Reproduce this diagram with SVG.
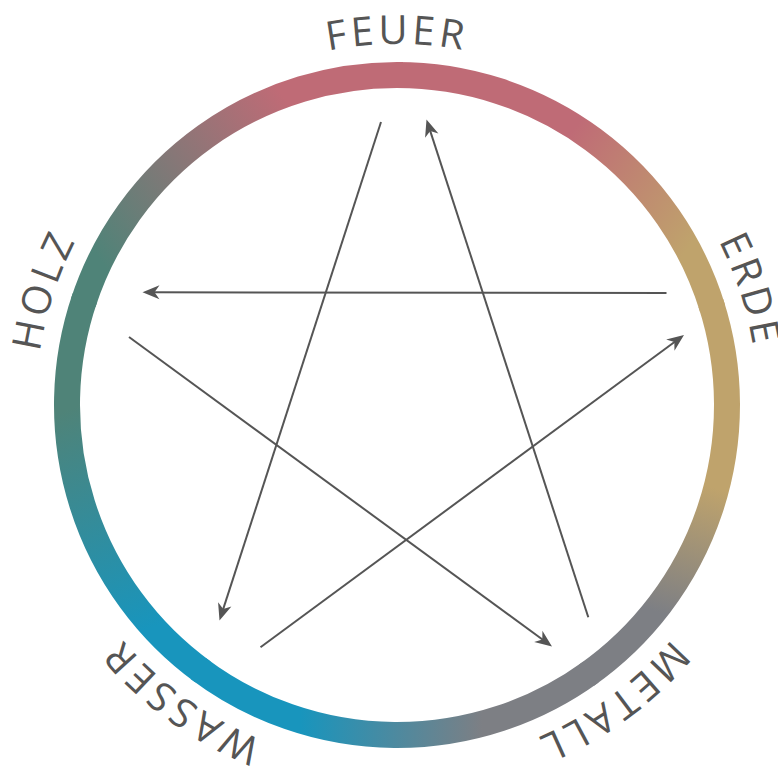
<svg xmlns="http://www.w3.org/2000/svg" width="778" height="771" viewBox="0 0 778 771">
<style>
  .ring { fill: none; stroke-width: 26; stroke-linecap: butt; }
  .label { font-family: "Open Sans", "Liberation Sans", sans-serif; font-size: 40px; fill: #555555; letter-spacing: 4px; text-anchor: middle; }
  .conn { fill: none; stroke: #555555; stroke-width: 2; marker-end: url(#arrow); }
</style>
<defs>
  <marker id="arrow" markerUnits="userSpaceOnUse" viewBox="-19 -9 20 18" refX="-8" refY="0" markerWidth="20" markerHeight="18" orient="auto">
    <path d="M0,0 L-17,-7 L-12,0 L-17,7 Z" fill="#555555"/>
  </marker>
  <path id="labelPath" d="M397,766 A361,361 0 1 1 397,44 A361,361 0 1 1 397,766"/>
  <linearGradient id="g1" gradientUnits="userSpaceOnUse" x1="397" y1="75" x2="710.85" y2="303.02">
    <stop offset="0.45" stop-color="#bf6b76"/><stop offset="0.87" stop-color="#bfa36c"/>
  </linearGradient>
  <linearGradient id="g2" gradientUnits="userSpaceOnUse" x1="710.85" y1="303.02" x2="590.97" y2="671.98">
    <stop offset="0.45" stop-color="#bfa36c"/><stop offset="0.8" stop-color="#7d7f84"/>
  </linearGradient>
  <linearGradient id="g3" gradientUnits="userSpaceOnUse" x1="590.97" y1="671.98" x2="203.03" y2="671.98">
    <stop offset="0.28" stop-color="#7d7f84"/><stop offset="0.75" stop-color="#1895bd"/>
  </linearGradient>
  <linearGradient id="g4" gradientUnits="userSpaceOnUse" x1="203.03" y1="671.98" x2="83.15" y2="303.02">
    <stop offset="0.15" stop-color="#1895bd"/><stop offset="0.75" stop-color="#4f8378"/>
  </linearGradient>
  <linearGradient id="g5" gradientUnits="userSpaceOnUse" x1="83.15" y1="303.02" x2="397" y2="75">
    <stop offset="0.1" stop-color="#4f8378"/><stop offset="0.73" stop-color="#bf6b76"/>
  </linearGradient>
</defs>
<rect x="0" y="0" width="778" height="771" fill="#ffffff"/>
<g id="ring">
  <path class="ring" stroke="url(#g1)" d="M397,75 A330,330 0 0 1 712.58,308.52"/>
  <path class="ring" stroke="url(#g2)" d="M710.85,303.02 A330,330 0 0 1 586.28,675.32"/>
  <path class="ring" stroke="url(#g3)" d="M590.97,671.98 A330,330 0 0 1 198.40,668.55"/>
  <path class="ring" stroke="url(#g4)" d="M203.03,671.98 A330,330 0 0 1 84.98,297.56"/>
  <path class="ring" stroke="url(#g5)" d="M83.15,303.02 A330,330 0 0 1 402.76,75.05"/>
</g>
<g id="connectors">
  <line class="conn" x1="381" y1="122" x2="221.97" y2="612.89"/>
  <line class="conn" x1="666.5" y1="293" x2="150.5" y2="292.3"/>
  <line class="conn" x1="129" y1="337" x2="545.54" y2="641.78"/>
  <line class="conn" x1="260.5" y1="647.3" x2="677.56" y2="339.75"/>
  <line class="conn" x1="588.3" y1="617.3" x2="428.97" y2="127.11"/>
</g>
<g id="node-feuer"><text class="label"><textPath href="#labelPath" startOffset="50%">FEUER</textPath></text></g>
<g id="node-erde"><text class="label"><textPath href="#labelPath" startOffset="70%">ERDE</textPath></text></g>
<g id="node-metall"><text class="label"><textPath href="#labelPath" startOffset="90%">METALL</textPath></text></g>
<g id="node-wasser"><text class="label"><textPath href="#labelPath" startOffset="10%">WASSER</textPath></text></g>
<g id="node-holz"><text class="label"><textPath href="#labelPath" startOffset="30%">HOLZ</textPath></text></g>
</svg>
